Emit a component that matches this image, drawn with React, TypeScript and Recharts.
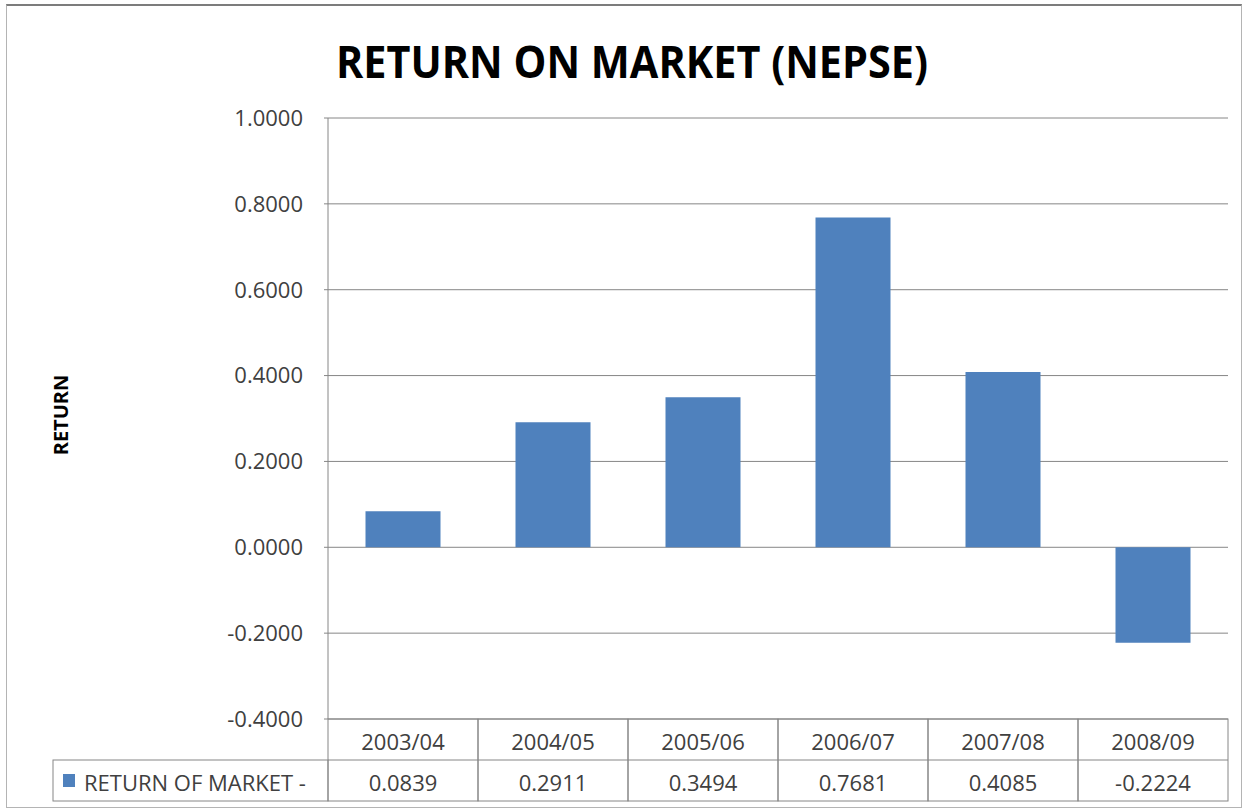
import { BarChart, Bar, XAxis, YAxis, CartesianGrid } from "recharts";

const periods = ["2003/04", "2004/05", "2005/06", "2006/07", "2007/08", "2008/09"];
const marketReturn = [0.0839, 0.2911, 0.3494, 0.7681, 0.4085, -0.2224];
const yTicks = [-0.4, -0.2, 0, 0.2, 0.4, 0.6, 0.8, 1.0];
const seriesName = "RETURN OF MARKET -";

const data = periods.map((period, i) => ({ period, ret: marketReturn[i] }));

const W = 1253;
const H = 812;
const PLOT_LEFT = 328;
const PLOT_RIGHT = 1228;
const PLOT_TOP = 118;
const PLOT_BOTTOM = 719;
const ROW_H = 41;
const Y_AXIS_W = 80;

const GRID = "#868686";
const TEXT = "#404040";
const BLUE = "#4F81BD";
const FONT = "'Open Sans', sans-serif";

// data table under the plot: one column per category, drawn from the x axis ticks
function TableTick(props: any) {
  const { x, y, index, payload } = props;
  const colW = (PLOT_RIGHT - PLOT_LEFT) / periods.length;
  const left = x - colW / 2;
  return (
    <g>
      <rect x={left} y={y} width={colW} height={ROW_H * 2} fill="none" stroke={GRID} />
      <line x1={left} x2={left + colW} y1={y + ROW_H} y2={y + ROW_H} stroke={GRID} />
      <text x={x} y={y + ROW_H / 2 + 1} textAnchor="middle" dominantBaseline="central"
        fontSize={22} fill={TEXT} fontFamily={FONT}>
        {payload.value}
      </text>
      <text x={x} y={y + ROW_H * 1.5 + 1} textAnchor="middle" dominantBaseline="central"
        fontSize={22} fill={TEXT} fontFamily={FONT}>
        {marketReturn[index].toFixed(4)}
      </text>
    </g>
  );
}

export default function App() {
  return (
    <div style={{ position: "absolute", left: 0, top: 0, width: W, height: H, background: "#fff" }}>
      <div style={{
        position: "absolute", left: 6, top: 4, width: 1234, height: 801,
        border: "1px solid #b4b4b4", borderTop: "2px solid #7c7c7c",
      }} />
      <BarChart
        width={W}
        height={H}
        data={data}
        barCategoryGap="25%"
        margin={{ top: PLOT_TOP, right: W - PLOT_RIGHT, bottom: 0, left: PLOT_LEFT - Y_AXIS_W }}
        style={{ position: "absolute", left: 0, top: 0 }}
      >
        <CartesianGrid vertical={false} stroke={GRID} strokeWidth={1} />
        <XAxis
          dataKey="period"
          axisLine={false}
          tickLine={false}
          tickSize={0}
          tickMargin={0}
          height={H - PLOT_BOTTOM}
          interval={0}
          tick={<TableTick />}
        />
        <YAxis
          width={Y_AXIS_W}
          domain={[-0.4, 1.0]}
          ticks={yTicks}
          tickFormatter={(v: number) => v.toFixed(4)}
          tick={{ fontSize: 22, fill: TEXT, fontFamily: FONT }}
          tickSize={4}
          tickMargin={21}
          tickLine={{ stroke: GRID }}
          axisLine={{ stroke: GRID }}
          allowDataOverflow
        />
        <Bar dataKey="ret" fill={BLUE} isAnimationActive={false} />
      </BarChart>
      <svg width={W} height={H} style={{ position: "absolute", left: 0, top: 0, pointerEvents: "none" }}>
        <text x={632} y={78} textAnchor="middle" fontSize={44} fontWeight={700}
          fontFamily={FONT} fill="#000" textLength={592} lengthAdjust="spacingAndGlyphs">
          RETURN ON MARKET (NEPSE)
        </text>
        <text transform="translate(60,415) rotate(-90)" textAnchor="middle" dominantBaseline="central"
          fontSize={20} fontWeight={700} fontFamily={FONT} fill="#000">
          RETURN
        </text>
        {/* legend key cell of the data table */}
        <rect x={53} y={PLOT_BOTTOM + ROW_H} width={PLOT_LEFT - 53} height={ROW_H} fill="none" stroke={GRID} />
        <rect x={63} y={PLOT_BOTTOM + ROW_H + 14} width={12} height={13} fill={BLUE} />
        <text x={84} y={PLOT_BOTTOM + ROW_H * 1.5 + 1} dominantBaseline="central"
          fontSize={22} fill={TEXT} fontFamily={FONT}>
          {seriesName}
        </text>
      </svg>
    </div>
  );
}
